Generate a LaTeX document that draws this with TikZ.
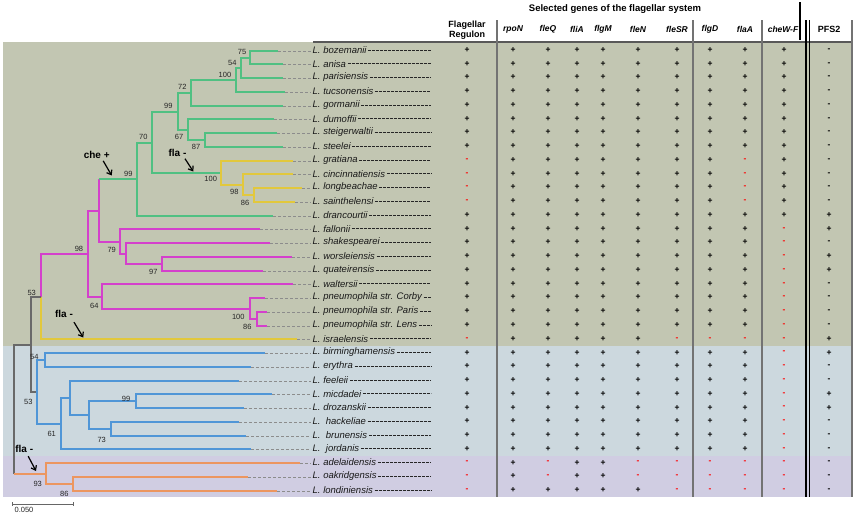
\documentclass[tikz,border=0pt]{standalone}
\usepackage{fontspec}
\setsansfont{Liberation Sans}
\usetikzlibrary{arrows.meta}

\definecolor{bandolive}{RGB}{194,198,178}
\definecolor{bandblue}{RGB}{204,216,222}
\definecolor{bandlilac}{RGB}{208,205,226}
\definecolor{clgreen}{RGB}{80,192,130}
\definecolor{clyellow}{RGB}{226,200,60}
\definecolor{clpink}{RGB}{212,64,204}
\definecolor{clblue}{RGB}{80,150,215}
\definecolor{clorange}{RGB}{236,150,96}
\definecolor{clgray}{RGB}{105,105,105}

\def\colpos{{467,513,548,577,603,638,677,710,745,784,829}}
\newcommand\genrow[2]{%
  \pgfmathsetmacro\rowy{50+13.75*#1}%
  \foreach \cv [count=\k from 0] in {#2}{%
    \pgfmathsetmacro\xx{\colpos[\k]}%
    \if\cv p\node[plus] (g#1-\k) at (\xx,\rowy) {+};%
    \else\if\cv r\node[negr] (g#1-\k) at (\xx,\rowy) {-};%
    \else\node[negk] (g#1-\k) at (\xx,\rowy) {-};\fi\fi}}

\tikzset{
  br/.style={line width=1.8pt},
  grn/.style={br, draw=clgreen}, yel/.style={br, draw=clyellow},
  pnk/.style={br, draw=clpink}, blu/.style={br, draw=clblue},
  org/.style={br, draw=clorange}, gry/.style={br, draw=clgray},
  leader/.style={draw=black!45, line width=0.8pt, dash pattern=on 3pt off 2pt},
  trail/.style={draw=black!85, line width=0.9pt, dash pattern=on 3pt off 1pt},
  taxon/.style={anchor=west, inner sep=1.5pt, text=black!90,
    font=\sffamily\itshape\fontsize{9.5}{11}\selectfont},
  boot/.style={inner sep=0pt, text=black!85, font=\sffamily\fontsize{7.5}{8}\selectfont},
  hdr/.style={inner sep=0pt, font=\sffamily\bfseries\fontsize{9}{10}\selectfont},
  ghdr/.style={hdr, font=\sffamily\bfseries\itshape\fontsize{8.5}{10}\selectfont},
  plus/.style={inner sep=0pt, font=\sffamily\bfseries\fontsize{8.5}{8}\selectfont},
  negr/.style={plus, text=red},
  negk/.style={plus, text=black},
  ann/.style={inner sep=0pt, font=\sffamily\bfseries\fontsize{10}{11}\selectfont},
  pointer/.style={line width=1.2pt, -{Straight Barb[length=4pt,width=6pt]}},
  vline/.style={draw=black!55, line width=1.4pt},
}

\begin{document}
\begin{tikzpicture}[x=1pt,y=-1pt]
\useasboundingbox (0,0) rectangle (856,520);

%%%%% bands %%%%%
\fill[bandolive] (3,42) rectangle (852,345.6);
\fill[bandblue] (3,345.6) rectangle (852,455.6);
\fill[bandlilac] (3,455.6) rectangle (852,497);

%%%%% header %%%%%
\node[hdr, font=\sffamily\bfseries\fontsize{9.5}{10}\selectfont] (hsel) at (615,9) {Selected genes of the flagellar system};
\node[hdr, align=center] (hreg) at (467,30) {Flagellar\\Regulon};
\node[ghdr] (hrpoN) at (513,29) {rpoN};
\node[ghdr] (hfleQ) at (548,29) {fleQ};
\node[ghdr] (hfliA) at (577,29) {fliA};
\node[ghdr] (hflgM) at (603,29) {flgM};
\node[ghdr] (hfleN) at (638,29) {fleN};
\node[ghdr] (hfleSR) at (677,29) {fleSR};
\node[ghdr] (hflgD) at (710,29) {flgD};
\node[ghdr] (hflaA) at (745,29) {flaA};
\node[ghdr] (hcheW) at (783,29) {cheW-F};
\node[hdr] (hpfs) at (829,29) {PFS2};

\draw[draw=black!65, line width=1.6pt] (313,42) -- (852,42);
\draw[vline] (497,20) -- (497,497);
\draw[vline] (693,20) -- (693,497);
\draw[vline] (762,20) -- (762,497);
\draw[vline] (852,20) -- (852,497);
\draw[line width=1.1pt] (806,20) -- (806,497);
\draw[line width=1.1pt] (809.5,20) -- (809.5,497);
\draw[line width=1.1pt] (800,2) -- (800,40);

%%%%% scale bar %%%%%
\coordinate (sbl) at (12.3,504);
\coordinate (sbr) at (74,504);
\draw[draw=black!60, line width=0.8pt, {Bar[width=4pt]}-{Bar[width=4pt]}] (sbl) -- (sbr);
\node[boot, anchor=north] (sblab) at (24,507) {0.050};

%%%%% tips %%%%%
\coordinate (bozemanii) at (278,51);
\coordinate (anisa) at (283,64);
\coordinate (parisiensis) at (283,78);
\coordinate (tucsonensis) at (285,92);
\coordinate (gormanii) at (283,106);
\coordinate (dumoffii) at (274,119);
\coordinate (steigerwaltii) at (277,133);
\coordinate (steelei) at (283,147);
\coordinate (gratiana) at (293,161);
\coordinate (cincinnatiensis) at (293,174);
\coordinate (longbeachae) at (302,188);
\coordinate (sainthelensi) at (295,202);
\coordinate (drancourtii) at (273,216);
\coordinate (fallonii) at (260,229);
\coordinate (shakespearei) at (270,243);
\coordinate (worsleiensis) at (292,257);
\coordinate (quateirensis) at (263,271);
\coordinate (waltersii) at (293,284);
\coordinate (corby) at (265,298);
\coordinate (paris) at (267,312);
\coordinate (lens) at (267,326);
\coordinate (israelensis) at (297,339);
\coordinate (birminghamensis) at (265,353);
\coordinate (erythra) at (251,367);
\coordinate (feeleii) at (239,381);
\coordinate (micdadei) at (272,394);
\coordinate (drozanskii) at (244,408);
\coordinate (hackeliae) at (239,422);
\coordinate (brunensis) at (246,436);
\coordinate (jordanis) at (251,449);
\coordinate (adelaidensis) at (300,463);
\coordinate (oakridgensis) at (248,477);
\coordinate (londiniensis) at (277,491);

%%%%% taxa %%%%%
\coordinate (tailend) at (431,0);
\node[taxon] (lbozemanii) at (311,50) {L. bozemanii};
\node[taxon] (lanisa) at (311,63.75) {L. anisa};
\node[taxon] (lparisiensis) at (311,77.5) {L. parisiensis};
\node[taxon] (ltucsonensis) at (311,91.25) {L. tucsonensis};
\node[taxon] (lgormanii) at (311,105) {L. gormanii};
\node[taxon] (ldumoffii) at (311,118.75) {L. dumoffii};
\node[taxon] (lsteigerwaltii) at (311,132.5) {L. steigerwaltii};
\node[taxon] (lsteelei) at (311,146.25) {L. steelei};
\node[taxon] (lgratiana) at (311,160) {L. gratiana};
\node[taxon] (lcincinnatiensis) at (311,173.75) {L. cincinnatiensis};
\node[taxon] (llongbeachae) at (311,187.5) {L. longbeachae};
\node[taxon] (lsainthelensi) at (311,201.25) {L. sainthelensi};
\node[taxon] (ldrancourtii) at (311,215) {L. drancourtii};
\node[taxon] (lfallonii) at (311,228.75) {L. fallonii};
\node[taxon] (lshakespearei) at (311,242.5) {L. shakespearei};
\node[taxon] (lworsleiensis) at (311,256.25) {L. worsleiensis};
\node[taxon] (lquateirensis) at (311,270) {L. quateirensis};
\node[taxon] (lwaltersii) at (311,283.75) {L. waltersii};
\node[taxon] (lcorby) at (311,297.5) {L. pneumophila str. Corby};
\node[taxon] (lparis) at (311,311.25) {L. pneumophila str. Paris};
\node[taxon] (llens) at (311,325) {L. pneumophila str. Lens};
\node[taxon] (lisraelensis) at (311,338.75) {L. israelensis};
\node[taxon] (lbirminghamensis) at (311,352.5) {L. birminghamensis};
\node[taxon] (lerythra) at (311,366.25) {L. erythra};
\node[taxon] (lfeeleii) at (311,380) {L. feeleii};
\node[taxon] (lmicdadei) at (311,393.75) {L. micdadei};
\node[taxon] (ldrozanskii) at (311,407.5) {L. drozanskii};
\node[taxon] (lhackeliae) at (311,421.25) {L.\ \ hackeliae};
\node[taxon] (lbrunensis) at (311,435) {L.\ \ brunensis};
\node[taxon] (ljordanis) at (311,448.75) {L.\ \ jordanis};
\node[taxon] (ladelaidensis) at (311,462.5) {L. adelaidensis};
\node[taxon] (loakridgensis) at (311,476.25) {L. oakridgensis};
\node[taxon] (llondiniensis) at (311,490) {L. londiniensis};

\foreach \t in {bozemanii,anisa,parisiensis,tucsonensis,gormanii,dumoffii,steigerwaltii,steelei,gratiana,cincinnatiensis,longbeachae,sainthelensi,drancourtii,fallonii,shakespearei,worsleiensis,quateirensis,waltersii,corby,paris,lens,israelensis,birminghamensis,erythra,feeleii,micdadei,drozanskii,hackeliae,brunensis,jordanis,adelaidensis,oakridgensis,londiniensis}{
  \draw[leader] (\t) -- (\t -| l\t.west);
  \draw[trail] (l\t) -- (l\t.east -| tailend);
}

%%%%% inner nodes %%%%%
\coordinate (n75) at (250,58);
\coordinate (n54) at (241,68);
\coordinate (n100a) at (236,80);
\coordinate (n72) at (191,93);
\coordinate (n87) at (205,140);
\coordinate (n67) at (188,130);
\coordinate (n99a) at (178,112);
\coordinate (n86a) at (254,195);
\coordinate (n98a) at (243,185);
\coordinate (n100b) at (221,173);
\coordinate (n70) at (152,143);
\coordinate (n99b) at (137,179);
\coordinate (n97) at (162,264);
\coordinate (nsh) at (126,254);
\coordinate (n79) at (120,242);
\coordinate (nche) at (99,211);
\coordinate (pn86) at (257,319);
\coordinate (pn100) at (250,309);
\coordinate (pn64) at (102,297);
\coordinate (pn98) at (88,254);
\coordinate (n53a) at (41,297);
\coordinate (n54b) at (45,360);
\coordinate (n99c) at (136,401);
\coordinate (n73) at (111,429);
\coordinate (nmd) at (89,415);
\coordinate (nfe) at (70,398);
\coordinate (n61) at (61,424);
\coordinate (n53b) at (37,392);
\coordinate (ngray) at (31,345);
\coordinate (n86c) at (73,484);
\coordinate (n93) at (46,474);
\coordinate (root) at (14,409);

%%%%% branches %%%%%
\draw[grn] (n75) |- (bozemanii); \draw[grn] (n75) |- (anisa);
\draw[grn] (n54) |- (n75); \draw[grn] (n54) |- (parisiensis);
\draw[grn] (n100a) |- (n54); \draw[grn] (n100a) |- (tucsonensis);
\draw[grn] (n72) |- (n100a); \draw[grn] (n72) |- (gormanii);
\draw[grn] (n87) |- (steigerwaltii); \draw[grn] (n87) |- (steelei);
\draw[grn] (n67) |- (dumoffii); \draw[grn] (n67) |- (n87);
\draw[grn] (n99a) |- (n72); \draw[grn] (n99a) |- (n67);
\draw[grn] (n70) |- (n99a); \draw[grn] (n70) |- (n100b);
\draw[yel] (n100b) |- (gratiana); \draw[yel] (n100b) |- (n98a);
\draw[yel] (n98a) |- (cincinnatiensis); \draw[yel] (n98a) |- (n86a);
\draw[yel] (n86a) |- (longbeachae); \draw[yel] (n86a) |- (sainthelensi);
\draw[grn] (n99b) |- (n70); \draw[grn] (n99b) |- (drancourtii);

\draw[pnk] (nche) -- (nche |- n99b); \draw[grn] (nche |- n99b) -- (n99b);
\draw[pnk] (nche) |- (n79);
\draw[pnk] (n79) |- (fallonii); \draw[pnk] (n79) |- (nsh);
\draw[pnk] (nsh) |- (shakespearei); \draw[pnk] (nsh) |- (n97);
\draw[pnk] (n97) |- (worsleiensis); \draw[pnk] (n97) |- (quateirensis);
\draw[pnk] (pn98) |- (nche); \draw[pnk] (pn98) |- (pn64);
\draw[pnk] (pn64) |- (waltersii); \draw[pnk] (pn64) |- (pn100);
\draw[pnk] (pn100) |- (corby); \draw[pnk] (pn100) |- (pn86);
\draw[pnk] (pn86) |- (paris); \draw[pnk] (pn86) |- (lens);
\draw[pnk] (n53a) |- (pn98); \draw[yel] (n53a) |- (israelensis);

\draw[gry] (ngray) |- (n53a); \draw[gry] (ngray) |- (n53b);
\draw[blu] (n53b) |- (n54b); \draw[blu] (n53b) |- (n61);
\draw[blu] (n54b) |- (birminghamensis); \draw[blu] (n54b) |- (erythra);
\draw[blu] (n61) |- (nfe); \draw[blu] (n61) |- (jordanis);
\draw[blu] (nfe) |- (feeleii); \draw[blu] (nfe) |- (nmd);
\draw[blu] (nmd) |- (n99c); \draw[blu] (nmd) |- (n73);
\draw[blu] (n99c) |- (micdadei); \draw[blu] (n99c) |- (drozanskii);
\draw[blu] (n73) |- (hackeliae); \draw[blu] (n73) |- (brunensis);

\draw[gry] (root) |- (ngray);
\draw[gry] (root) -- (root |- n93); \draw[org] (root |- n93) -- (n93);
\draw[org] (n93) |- (adelaidensis); \draw[org] (n93) |- (n86c);
\draw[org] (n86c) |- (oakridgensis); \draw[org] (n86c) |- (londiniensis);

%%%%% bootstrap values %%%%%
\node[boot] (bs75) at (242,51.7) {75};
\node[boot] (bs54a) at (232.3,62.7) {54};
\node[boot] (bs100a) at (225,75) {100};
\node[boot] (bs72) at (182.3,87.3) {72};
\node[boot] (bs99a) at (168.3,106) {99};
\node[boot] (bs70) at (143.3,136.7) {70};
\node[boot] (bs67) at (179,136.5) {67};
\node[boot] (bs87) at (196,147) {87};
\node[boot] (bs100b) at (210.7,178.8) {100};
\node[boot] (bs98a) at (234.3,191.5) {98};
\node[boot] (bs86a) at (245,203.2) {86};
\node[boot] (bs99b) at (128.3,174) {99};
\node[boot] (bs79) at (111.7,249.8) {79};
\node[boot] (bs97) at (153.3,271.5) {97};
\node[boot] (bs98b) at (79,249.3) {98};
\node[boot] (bs64) at (94.3,305.5) {64};
\node[boot] (bs100c) at (238.3,317.2) {100};
\node[boot] (bs86b) at (247.3,327.2) {86};
\node[boot] (bs53a) at (31.7,293.3) {53};
\node[boot] (bs54b) at (34.3,357.3) {54};
\node[boot] (bs53b) at (28.3,402.2) {53};
\node[boot] (bs61) at (51.7,433.8) {61};
\node[boot] (bs99c) at (126,399.3) {99};
\node[boot] (bs73) at (101.7,439.5) {73};
\node[boot] (bs93) at (37.7,483.8) {93};
\node[boot] (bs86c) at (64.3,493.8) {86};

%%%%% annotations %%%%%
\node[ann] (che) at (96.7,155) {che +};
\coordinate (cheTip) at (111.7,175.5);
\draw[pointer] ([xshift=6.5pt,yshift=-2pt]che.south) -- (cheTip);
\node[ann] (flaU) at (177.5,153.3) {fla -};
\coordinate (flaUTip) at (193.3,171.5);
\draw[pointer] ([xshift=7.5pt,yshift=-1.5pt]flaU.south) -- (flaUTip);
\node[ann] (flaM) at (64,314.3) {fla -};
\coordinate (flaMTip) at (83.3,337.5);
\draw[pointer] ([xshift=10pt,yshift=-4pt]flaM.south) -- (flaMTip);
\node[ann] (flaL) at (24.2,449.3) {fla -};
\coordinate (flaLTip) at (36,471);
\draw[pointer] ([xshift=4pt,yshift=-3pt]flaL.south) -- (flaLTip);

%%%%% presence table %%%%%
\genrow{0}{p,p,p,p,p,p,p,p,p,p,k}
\genrow{1}{p,p,p,p,p,p,p,p,p,p,k}
\genrow{2}{p,p,p,p,p,p,p,p,p,p,k}
\genrow{3}{p,p,p,p,p,p,p,p,p,p,k}
\genrow{4}{p,p,p,p,p,p,p,p,p,p,k}
\genrow{5}{p,p,p,p,p,p,p,p,p,p,k}
\genrow{6}{p,p,p,p,p,p,p,p,p,p,k}
\genrow{7}{p,p,p,p,p,p,p,p,p,p,k}
\genrow{8}{r,p,p,p,p,p,p,p,r,p,k}
\genrow{9}{r,p,p,p,p,p,p,p,r,p,k}
\genrow{10}{r,p,p,p,p,p,p,p,r,p,k}
\genrow{11}{r,p,p,p,p,p,p,p,r,p,k}
\genrow{12}{p,p,p,p,p,p,p,p,p,p,p}
\genrow{13}{p,p,p,p,p,p,p,p,p,r,p}
\genrow{14}{p,p,p,p,p,p,p,p,p,r,k}
\genrow{15}{p,p,p,p,p,p,p,p,p,r,p}
\genrow{16}{p,p,p,p,p,p,p,p,p,r,p}
\genrow{17}{p,p,p,p,p,p,p,p,p,r,k}
\genrow{18}{p,p,p,p,p,p,p,p,p,r,k}
\genrow{19}{p,p,p,p,p,p,p,p,p,r,k}
\genrow{20}{p,p,p,p,p,p,p,p,p,r,k}
\genrow{21}{r,p,p,p,p,p,r,r,r,r,p}
\genrow{22}{p,p,p,p,p,p,p,p,p,r,p}
\genrow{23}{p,p,p,p,p,p,p,p,p,r,k}
\genrow{24}{p,p,p,p,p,p,p,p,p,r,k}
\genrow{25}{p,p,p,p,p,p,p,p,p,r,p}
\genrow{26}{p,p,p,p,p,p,p,p,p,r,p}
\genrow{27}{p,p,p,p,p,p,p,p,p,r,k}
\genrow{28}{p,p,p,p,p,p,p,p,p,r,k}
\genrow{29}{p,p,p,p,p,p,p,p,p,r,k}
\genrow{30}{r,p,r,p,p,r,r,r,r,r,k}
\genrow{31}{r,p,r,p,p,r,r,r,r,r,k}
\genrow{32}{r,p,p,p,p,p,r,r,r,r,k}

\end{tikzpicture}
\end{document}
